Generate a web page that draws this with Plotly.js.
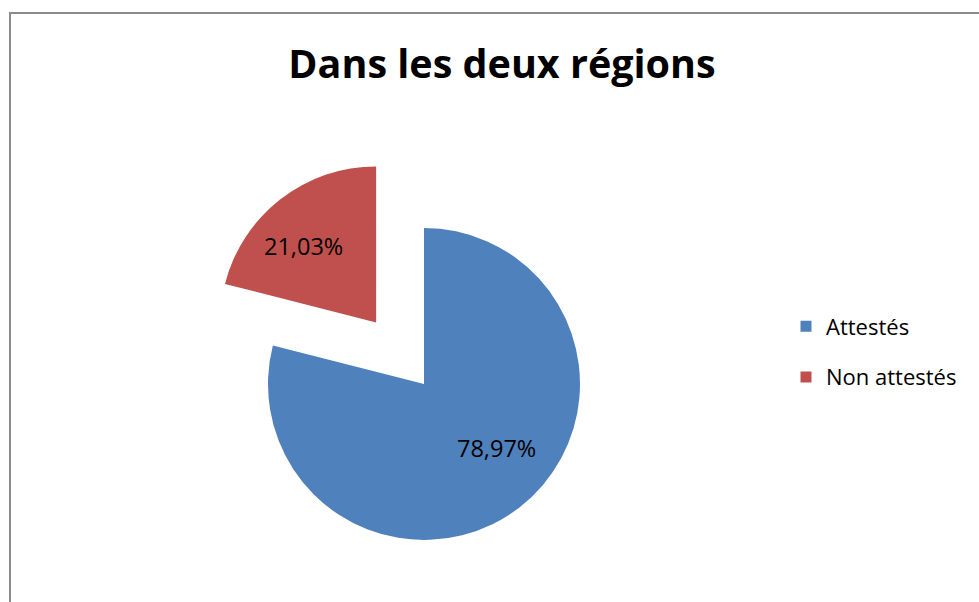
<!DOCTYPE html>
<html>
<head>
<meta charset="utf-8">
<script src="https://cdn.plot.ly/plotly-3.0.1.min.js"></script>
<style>
html,body{margin:0;padding:0;overflow:hidden;background:#fff;}
#chart{width:979px;height:700px;}
</style>
</head>
<body>
<div id="chart"></div>
<script>
const categories = ["Attestés", "Non attestés"];
const values = [78.97, 21.03];
const valueLabels = ["78,97%", "21,03%"];
const colors = ["#4F81BD", "#C0504D"];
const pulls = [0, 0.5];

const W = 979, H = 700;
const FONT = "'Open Sans', Lato, sans-serif";
const domX = [190/W, 658/W], domY = [1 - 618/H, 1 - 150/H];

const pie = {
  type: "pie",
  labels: categories,
  values: values,
  text: valueLabels,
  textinfo: "none",
  marker: {colors: colors},
  pull: pulls,
  sort: false,
  direction: "clockwise",
  rotation: 0,
  domain: {x: domX, y: domY},
  showlegend: false,
  hoverinfo: "label+text"
};

// legend entries (one per category) so that the spacing can match
const legendTraces = categories.map((c, i) => ({
  type: "scatter", mode: "markers", x: [null], y: [null],
  name: c, legendgroup: "g" + i,
  marker: {symbol: "square", size: 11, color: colors[i]},
  showlegend: true, hoverinfo: "skip"
}));

// value labels placed from the slice geometry
const total = values.reduce((a, b) => a + b, 0);
const bw = W * (domX[1] - domX[0]), bh = H * (domY[1] - domY[0]);
const maxPull = Math.max(...pulls);
const R = Math.min(bw, bh) / (2 + 2 * maxPull);
const cx = W * (domX[0] + domX[1]) / 2, cy = H * (1 - (domY[0] + domY[1]) / 2);
let cum = 0;
const annotations = values.map((v, i) => {
  const mid = (cum + v / 2) / total * 2 * Math.PI;
  cum += v;
  const px = cx + pulls[i] * R * Math.sin(mid);
  const py = cy - pulls[i] * R * Math.cos(mid);
  const a = mid - 8 * Math.PI / 180;
  const d = 0.645 * R;
  return {
    xref: "paper", yref: "paper",
    x: (px + d * Math.sin(a)) / W, y: 1 - (py - d * Math.cos(a) - 6) / H,
    xanchor: "center", yanchor: "middle", showarrow: false,
    text: valueLabels[i],
    font: {family: FONT, size: 23.5, color: "#000"}
  };
});

const layout = {
  width: W, height: H,
  margin: {l: 0, r: 0, t: 0, b: 0},
  paper_bgcolor: "#fff", plot_bgcolor: "rgba(0,0,0,0)",
  xaxis: {visible: false}, yaxis: {visible: false},
  showlegend: true,
  title: {text: "<b>Dans les deux régions</b>", font: {family: FONT, size: 39.5, color: "#000"},
          x: 502/W, xanchor: "center", y: 1 - 64/H, yanchor: "middle"},
  legend: {x: 786/W, xanchor: "left", y: 1 - 352/H, yanchor: "middle",
           traceorder: "grouped", tracegroupgap: 19,
           font: {family: FONT, size: 22, color: "#000"},
           bgcolor: "rgba(0,0,0,0)"},
  annotations: annotations,
  shapes: [{type: "rect", xref: "paper", yref: "paper", x0: 10/W, x1: 1.2, y0: -0.2, y1: 1 - 13/H,
            line: {color: "#8c8c8c", width: 2}, fillcolor: "rgba(0,0,0,0)", layer: "below"}]
};

Plotly.newPlot("chart", [pie, ...legendTraces], layout, {displayModeBar: false, staticPlot: true});
</script>
</body>
</html>
